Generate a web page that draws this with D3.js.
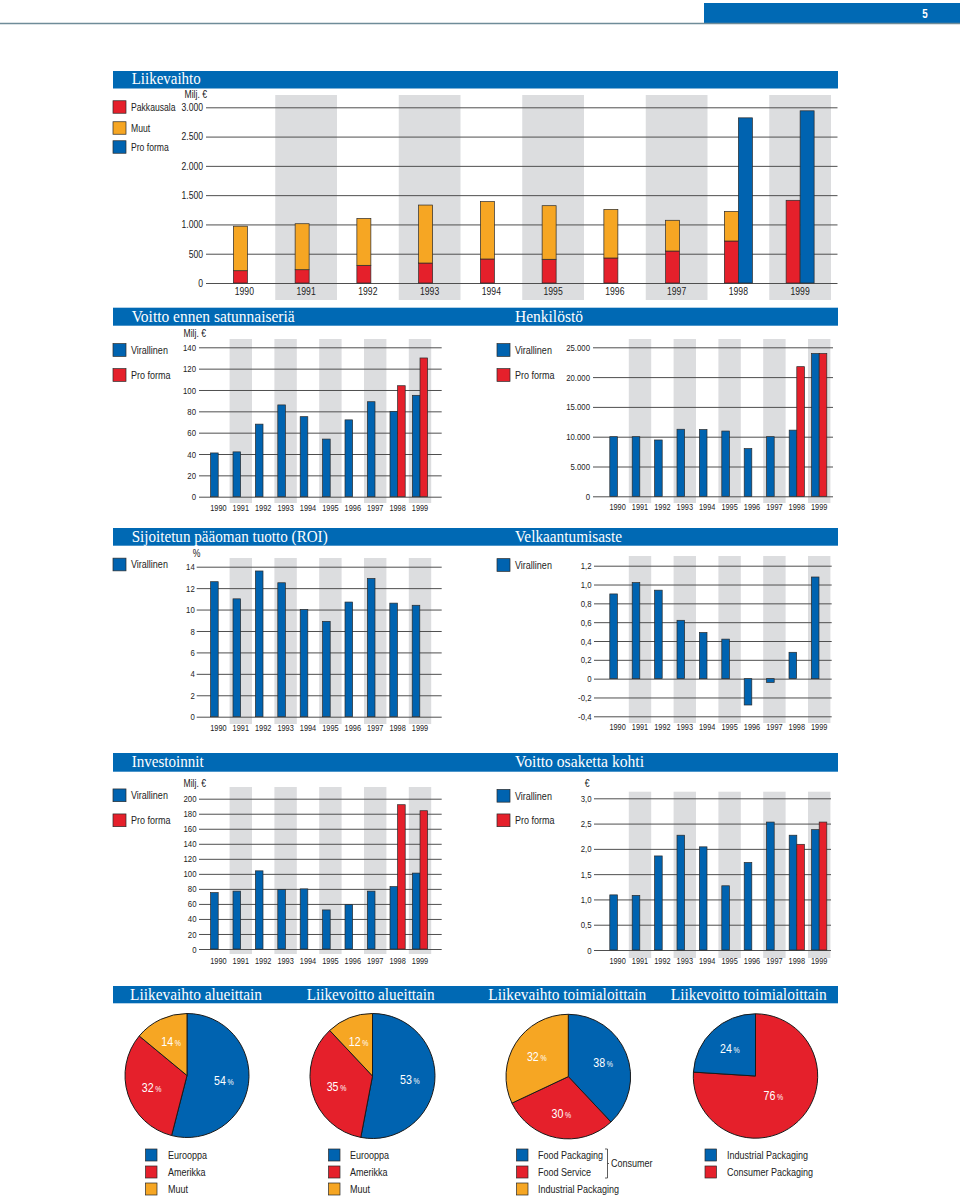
<!DOCTYPE html>
<html><head><meta charset="utf-8">
<script src="https://cdn.jsdelivr.net/npm/d3@7"></script>
<style>
body{margin:0;background:#fff}
svg{display:block}
text{font-family:"Liberation Sans",Arial,Helvetica,sans-serif;fill:#222}
.title{font-family:"Liberation Serif","Times New Roman",serif;fill:#fff}
</style></head><body>
<svg id="c" width="960" height="1197"></svg>
<script>
// ---------- DATA ----------
const years = [1990,1991,1992,1993,1994,1995,1996,1997,1998,1999];

// Liikevaihto (Milj. €)
const lvPakkausala = [210,227,302,341,410,405,427,546,717,1412];
const lvMuut       = [760,785,800,990,980,915,830,525,505,0];
const lvProForma   = [null,null,null,null,null,null,null,null,2820,2940];
const lvTicks = [0,500,1000,1500,2000,2500,3000];

// Voitto ennen satunnaiseriä (Milj. €)
const voVirallinen = [41,42,68,86,75,54,72,89,80,95];
const voProForma   = [null,null,null,null,null,null,null,null,104,130];
const voTicks = [0,20,40,60,80,100,120,140];

// Henkilöstö
const heVirallinen = [10000,10000,9450,11250,11200,10950,8000,10000,11100,23950];
const heProForma   = [null,null,null,null,null,null,null,null,21750,23950];
const heTicks = [0,5000,10000,15000,20000,25000];

// ROI (%)
const roiVirallinen = [12.6,11.0,13.6,12.5,10.0,8.9,10.7,12.9,10.6,10.4];
const roiTicks = [0,2,4,6,8,10,12,14];

// Velkaantumisaste
const veVirallinen = [0.90,1.02,0.94,0.62,0.49,0.42,-0.28,-0.04,0.28,1.08];
const veTicks = [-0.4,-0.2,0,0.2,0.4,0.6,0.8,1.0,1.2];

// Investoinnit (Milj. €)
const inVirallinen = [75,77,104,79,80,52,59,77,83,101];
const inProForma   = [null,null,null,null,null,null,null,null,192,184];
const inTicks = [0,20,40,60,80,100,120,140,160,180,200];

// Voitto osaketta kohti (€)
const osVirallinen = [1.09,1.08,1.86,2.27,2.04,1.27,1.73,2.53,2.27,2.38];
const osProForma   = [null,null,null,null,null,null,null,null,2.09,2.53];
const osTicks = [0,0.5,1.0,1.5,2.0,2.5,3.0];

// Pies
const pieAlueLv = [54,32,14];   // Eurooppa, Amerikka, Muut
const pieAlueLvo = [53,35,12];  // Eurooppa, Amerikka, Muut
const pieToimLv = [38,30,32];   // Food Packaging, Food Service, Industrial Packaging
const pieToimLvo = [76,24];     // Consumer Packaging, Industrial Packaging

// ---------- STYLE ----------
const BLUE="#0063b0", RED="#e5202b", ORANGE="#f6a623", BAND="#dcdddf", TBLUE="#0069b4", GRID="#4f4f4f", EDGE="#2a2a2a";
const SX = 0.82; // horizontal condensing of sans text

const svg = d3.select("#c");
const fi = d3.formatLocale({decimal:",", thousands:".", grouping:[3], currency:["","€"], minus:"-"});
const fInt = fi.format(",d");
const f1 = v => Math.abs(v)<1e-9 ? "0" : fi.format(".1f")(v);

function ntext(x,y,txt,fs,anchor){
  return svg.append("text").attr("transform",`translate(${x},${y}) scale(${SX},1)`).attr("dy","0.35em")
    .attr("text-anchor",anchor||"start").style("font-size",fs+"px").text(txt);
}

// header
svg.append("rect").attr("x",704).attr("y",3).attr("width",256).attr("height",20).attr("fill",TBLUE);
ntext(925,13.5,"5",12,"middle").style("font-weight","bold").style("fill","#fff");
svg.append("line").attr("x1",0).attr("x2",960).attr("y1",23.5).attr("y2",23.5).attr("stroke","#6f8c99").attr("stroke-width",1.5);

// title bars
function titleBar(y,h,x0,x1){
  svg.append("rect").attr("x",x0).attr("y",y).attr("width",x1-x0).attr("height",h).attr("fill",TBLUE);
}
function title(txt,x,y,w,fs){
  svg.append("text").attr("class","title").attr("x",x).attr("y",y)
    .attr("textLength",w).attr("lengthAdjust","spacingAndGlyphs")
    .style("font-size",(fs||16)+"px").text(txt);
}
titleBar(71,17.5,113,838);   title("Liikevaihto",131.7,84,69);
titleBar(307.7,18,113,838);  title("Voitto ennen satunnaiseriä",131.7,321.5,163); title("Henkilöstö",515,321.5,68);
titleBar(528,17.7,113,838);  title("Sijoitetun pääoman tuotto (ROI)",131.7,541.5,196); title("Velkaantumisaste",515,541.5,107);
titleBar(753,18.7,113,838);  title("Investoinnit",131.7,767,72); title("Voitto osaketta kohti",515,767,129);
titleBar(986,17.3,113,838);
title("Liikevaihto alueittain",130,999.5,132); title("Liikevoitto alueittain",306.7,999.5,128);
title("Liikevaihto toimialoittain",488.3,999.5,158); title("Liikevoitto toimialoittain",670.7,999.5,156);

// legend helper
function legend(items,sqX,txtX,fs,sqW,sqH){
  items.forEach(it=>{
    svg.append("rect").attr("x",sqX).attr("y",it.cy-sqH/2).attr("width",sqW).attr("height",sqH)
      .attr("fill",it.color).attr("stroke",EDGE).attr("stroke-width",0.7);
    ntext(txtX,it.cy,it.label,fs);
  });
}

// bar chart
function barChart(o){
  const g = svg.append("g");
  const x = d3.scaleBand().domain(years).range(o.xr).padding(0);
  const y = d3.scaleLinear().domain(o.domain).range(o.yr);
  g.append("g").selectAll("rect").data(years.filter((d,i)=>i%2===1)).join("rect")
    .attr("x",d=>x(d)).attr("width",x.bandwidth()).attr("y",o.bandTop).attr("height",o.bandBottom-o.bandTop).attr("fill",BAND);
  const ya = d3.axisLeft(y).tickValues(o.ticks).tickFormat(o.fmt).tickSize(-(o.gx[1]-o.gx[0])).tickPadding(o.pad);
  const yg = g.append("g").attr("transform",`translate(${o.gx[0]},0)`).call(ya);
  yg.select(".domain").remove();
  yg.attr("font-family",null).attr("font-size",null);
  yg.selectAll(".tick line").attr("stroke",GRID).attr("stroke-width",1);
  yg.selectAll(".tick text").style("font-size",o.tfs+"px").attr("fill","#222")
    .attr("x",-o.pad/SX).attr("transform",`scale(${SX},1)`);
  const xa = d3.axisBottom(x).tickSize(0).tickPadding(0);
  const xg = g.append("g").attr("transform",`translate(0,${o.labelY})`).call(xa);
  xg.select(".domain").remove();
  xg.attr("font-family",null).attr("font-size",null);
  xg.selectAll(".tick text").attr("y",0).attr("dy","0.35em").style("font-size",o.yfs+"px").attr("fill","#222")
    .attr("transform",`scale(${SX},1)`);
  const w = o.barW;
  const hasPair = i => o.right && o.right[i]!=null;
  const cx = d => x(d)+x.bandwidth()/2;
  const leftX = (d,i) => hasPair(i) ? cx(d)-w : cx(d)-w/2-4;
  const bars = g.append("g");
  if(o.stack){
    const rows = years.map((yr,i)=>{const r={year:yr,i:i}; o.stack.keys.forEach((k,j)=>r[k]=o.stack.values[j][i]); return r;});
    const st = d3.stack().keys(o.stack.keys)(rows);
    st.forEach((layer,j)=>{
      bars.selectAll(null).data(layer.filter(d=>d[1]-d[0]>0)).join("rect")
        .attr("x",d=>leftX(d.data.year,d.data.i)).attr("width",w)
        .attr("y",d=>y(d[1])).attr("height",d=>y(d[0])-y(d[1]))
        .attr("fill",o.stack.colors[j]).attr("stroke",EDGE).attr("stroke-width",0.7);
    });
  } else {
    bars.selectAll(null).data(o.left.map((v,i)=>({v,i,year:years[i]}))).join("rect")
      .attr("x",d=>leftX(d.year,d.i)).attr("width",w)
      .attr("y",d=>y(Math.max(0,d.v))).attr("height",d=>Math.abs(y(d.v)-y(0)))
      .attr("fill",o.leftColor).attr("stroke",EDGE).attr("stroke-width",0.7);
  }
  if(o.right){
    bars.selectAll(null).data(o.right.map((v,i)=>({v,i,year:years[i]})).filter(d=>d.v!=null)).join("rect")
      .attr("x",d=>cx(d.year)).attr("width",w)
      .attr("y",d=>y(d.v)).attr("height",d=>y(0)-y(d.v))
      .attr("fill",o.rightColor).attr("stroke",EDGE).attr("stroke-width",0.7);
  }
  if(o.unit){ ntext(o.unit.x,o.unit.y,o.unit.t,10.5,"end"); }
}

// Liikevaihto
barChart({xr:[213.5,831],domain:[0,3000],yr:[283,107.3],gx:[206,837.5],pad:3,ticks:lvTicks,fmt:fInt,
  bandTop:95,bandBottom:300,labelY:291.5,barW:14,tfs:10.5,yfs:10.5,
  stack:{keys:["pak","muut"],values:[lvPakkausala,lvMuut],colors:[RED,ORANGE]},
  right:lvProForma,rightColor:BLUE,unit:{x:207,y:94.7,t:"Milj. €"}});
legend([{label:"Pakkausala",color:RED,cy:107},{label:"Muut",color:ORANGE,cy:128},{label:"Pro forma",color:BLUE,cy:147}],113,131,10.5,13,12.5);

// Voitto ennen satunnaiseriä
barChart({xr:[207.2,431.2],domain:[0,140],yr:[496.7,347.3],gx:[199,441.7],pad:3,ticks:voTicks,fmt:fInt,
  bandTop:339,bandBottom:503,labelY:507.5,barW:7.6,tfs:9.5,yfs:9,
  left:voVirallinen,leftColor:BLUE,right:voProForma,rightColor:RED,unit:{x:206,y:333,t:"Milj. €"}});
legend([{label:"Virallinen",color:BLUE,cy:350},{label:"Pro forma",color:RED,cy:375}],113,131,11,13,12.7);

// Henkilöstö
barChart({xr:[606.4,830.4],domain:[0,25000],yr:[496.3,347.3],gx:[593,833],pad:3,ticks:heTicks,fmt:fInt,
  bandTop:339,bandBottom:503,labelY:506.5,barW:7.6,tfs:9.5,yfs:9,
  left:heVirallinen,leftColor:BLUE,right:heProForma,rightColor:RED});
legend([{label:"Virallinen",color:BLUE,cy:350},{label:"Pro forma",color:RED,cy:375}],497,515,11,13,12.7);

// ROI
barChart({xr:[207.2,431.2],domain:[0,14],yr:[716.7,566.7],gx:[196.7,441.7],pad:2,ticks:roiTicks,fmt:fInt,
  bandTop:558,bandBottom:724,labelY:728,barW:7.6,tfs:9.5,yfs:9,
  left:roiVirallinen,leftColor:BLUE,unit:{x:200.5,y:553,t:"%"}});
legend([{label:"Virallinen",color:BLUE,cy:564.5}],113,131,11,13,12.7);

// Velkaantumisaste
barChart({xr:[606.4,830.4],domain:[-0.4,1.2],yr:[716.3,565.7],gx:[594,831.7],pad:2.5,ticks:veTicks,fmt:f1,
  bandTop:556,bandBottom:723,labelY:727,barW:7.6,tfs:9.5,yfs:9,
  left:veVirallinen,leftColor:BLUE});
legend([{label:"Virallinen",color:BLUE,cy:565}],497,515,11,13,12.7);

// Investoinnit
barChart({xr:[207.2,431.2],domain:[0,200],yr:[949,798.7],gx:[199,441.7],pad:2.5,ticks:inTicks,fmt:fInt,
  bandTop:787,bandBottom:954,labelY:960.7,barW:7.6,tfs:9.5,yfs:9,
  left:inVirallinen,leftColor:BLUE,right:inProForma,rightColor:RED,unit:{x:206,y:783,t:"Milj. €"}});
legend([{label:"Virallinen",color:BLUE,cy:795.3},{label:"Pro forma",color:RED,cy:820.3}],113,131,11,13,12.7);

// Voitto osaketta kohti
barChart({xr:[606.4,830.4],domain:[0,3],yr:[950,798.3],gx:[594,831],pad:2.5,ticks:osTicks,fmt:f1,
  bandTop:791.7,bandBottom:958,labelY:961,barW:7.6,tfs:9.5,yfs:9,
  left:osVirallinen,leftColor:BLUE,right:osProForma,rightColor:RED,unit:{x:589.5,y:783,t:"€"}});
legend([{label:"Virallinen",color:BLUE,cy:795.8},{label:"Pro forma",color:RED,cy:820.3}],497,515,11,13,12.7);

// pies
function pieChart(vals,colors,cx,cy,r){
  const g = svg.append("g").attr("transform",`translate(${cx},${cy})`);
  const arcs = d3.pie().sort(null).value(d=>d)(vals);
  const arc = d3.arc().innerRadius(0).outerRadius(r);
  const lr = d => d.value>60 ? r*0.42 : r*0.6;
  g.selectAll("path").data(arcs).join("path").attr("d",arc).attr("fill",(d,i)=>colors[i])
    .attr("stroke","#1a1a1a").attr("stroke-width",1);
  const t = g.selectAll("text").data(arcs).join("text")
    .attr("transform",d=>`translate(${d3.arc().innerRadius(lr(d)).outerRadius(lr(d)).centroid(d)}) scale(${SX},1)`)
    .attr("text-anchor","middle").attr("dy","0.35em")
    .style("font-size","13px").style("fill","#fff");
  t.append("tspan").text(d=>d.value);
  t.append("tspan").attr("dx",2).style("font-size","8.5px").text("%");
}
pieChart(pieAlueLv,[BLUE,RED,ORANGE],187,1075.5,62);
pieChart(pieAlueLvo,[BLUE,RED,ORANGE],372.5,1076,62.5);
pieChart(pieToimLv,[BLUE,RED,ORANGE],568.3,1076.6,62.3);
pieChart(pieToimLvo,[RED,BLUE],755.5,1076,62.2);

// bottom legends
const legRows=[1155,1172,1189];
legend([{label:"Eurooppa",color:BLUE,cy:legRows[0]},{label:"Amerikka",color:RED,cy:legRows[1]},{label:"Muut",color:ORANGE,cy:legRows[2]}],145.5,168,11,11.5,12);
legend([{label:"Eurooppa",color:BLUE,cy:legRows[0]},{label:"Amerikka",color:RED,cy:legRows[1]},{label:"Muut",color:ORANGE,cy:legRows[2]}],328.5,350,11,11.5,12);
legend([{label:"Food Packaging",color:BLUE,cy:legRows[0]},{label:"Food Service",color:RED,cy:legRows[1]},{label:"Industrial Packaging",color:ORANGE,cy:legRows[2]}],516.5,538,11,11.5,12);
legend([{label:"Industrial Packaging",color:BLUE,cy:legRows[0]},{label:"Consumer Packaging",color:RED,cy:legRows[1]}],705,727,11,11.5,12);
svg.append("path").attr("d",`M605,${legRows[0]-6} h2.5 V${legRows[1]+6} h-2.5 M607.5,${(legRows[0]+legRows[1])/2} h1.5`)
  .attr("fill","none").attr("stroke","#333").attr("stroke-width",0.8);
ntext(611,(legRows[0]+legRows[1])/2,"Consumer",11);
</script>
</body></html>
